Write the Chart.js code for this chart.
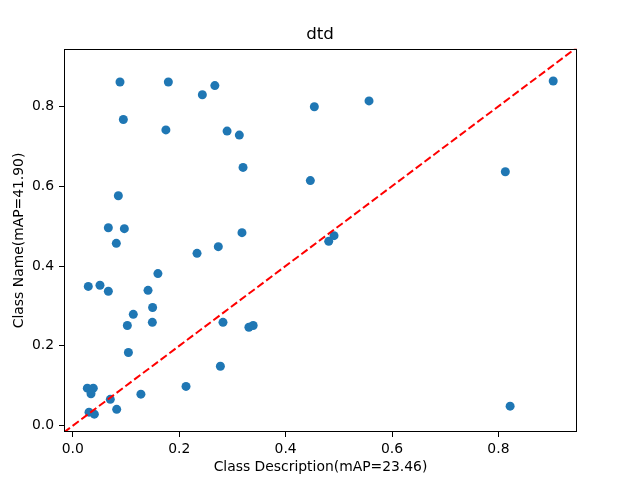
<!DOCTYPE html>
<html>
<head>
<meta charset="utf-8">
<script src="https://cdn.jsdelivr.net/npm/chart.js@4/dist/chart.umd.min.js"></script>
<style>
html,body{margin:0;padding:0;background:#fff;}
#wrap{width:640px;height:480px;position:relative;}
</style>
</head>
<body>
<div id="wrap"><canvas id="c" width="640" height="480"></canvas></div>
<script>
const chartTitle = "dtd";
const xLabel = "Class Description(mAP=23.46)";
const yLabel = "Class Name(mAP=41.90)";
const tickValues = [0.0, 0.2, 0.4, 0.6, 0.8];

const descAP = [0.0887,0.1796,0.2435,0.267,0.454,0.095,0.175,0.290,0.313,0.320,0.4465,0.0856,0.0668,0.0969,0.318,0.0818,
  0.5568,0.903,0.813,0.491,0.481,0.822,
  0.2735,0.2335,0.160,0.0291,0.0511,0.0668,0.1414,0.150,0.1137,0.1025,0.1495,0.2823,0.331,0.339,0.1045,0.2774,0.2128,0.0273,0.0385,0.0342,0.128,0.0705,0.0825,0.0305,0.0405];
const nameAP = [0.861,0.861,0.829,0.852,0.799,0.767,0.741,0.738,0.728,0.647,0.614,0.576,0.496,0.4935,0.4835,0.4568,
  0.8135,0.8635,0.636,0.476,0.4618,0.049,
  0.4485,0.4318,0.381,0.349,0.3518,0.3368,0.339,0.296,0.279,0.251,0.259,0.259,0.2467,0.251,0.1835,0.149,0.0985,0.094,0.094,0.080,0.079,0.066,0.041,0.034,0.029];
const diagLine = [-0.05, 1.0];

const points = descAP.map((x,i)=>({x:x, y:nameAP[i]}));
const diag = diagLine.map(v=>({x:v,y:v}));

const frame = {
  id:'frame',
  afterDraw(chart){
    const a = chart.chartArea, ctx = chart.ctx;
    ctx.save();
    ctx.strokeStyle = '#000';
    ctx.lineWidth = 1;
    ctx.strokeRect(Math.round(a.left)+0.5, Math.round(a.top)+0.5, Math.round(a.right-a.left)-1, Math.round(a.bottom-a.top)-1);
    ctx.restore();
  }
};

new Chart(document.getElementById('c'), {
  type: 'scatter',
  data: {
    datasets: [
      {
        data: points,
        backgroundColor: '#1f77b4',
        borderColor: '#1f77b4',
        borderWidth: 0,
        pointRadius: 4.5,
        pointHoverRadius: 4.5,
        order: 2
      },
      {
        type: 'line',
        data: diag,
        borderColor: '#ff0000',
        borderWidth: 2,
        borderDash: [7.7, 3.3],
        pointRadius: 0,
        fill: false,
        order: 1
      }
    ]
  },
  options: {
    responsive: false,
    animation: false,
    events: [],
    layout: { padding: 0 },
    plugins: {
      legend: { display: false },
      tooltip: { enabled: false },
      title: {
        display: true,
        text: chartTitle,
        color: '#000',
        font: { family: 'DejaVu Sans', size: 16.7, weight: 'normal', lineHeight: 1.2 },
        padding: { top: 24.4, bottom: 4.4 }
      }
    },
    scales: {
      x: {
        type: 'linear',
        min: -0.01654,
        max: 0.9477,
        afterFit(s){ s.height = 48; },
        afterBuildTicks(s){ s.ticks = tickValues.map(v=>({value:v})); },
        ticks: {
          color: '#000',
          font: { family: 'DejaVu Sans', size: 13.9 },
          padding: 4,
          maxRotation: 0,
          callback: v => v.toFixed(1)
        },
        grid: { display: true, drawOnChartArea: false, drawTicks: true, tickLength: 5, tickColor: '#000' },
        border: { display: false },
        title: {
          display: true, text: xLabel, color: '#000',
          font: { family: 'DejaVu Sans', size: 13.9, lineHeight: 1.2 },
          padding: { top: 0, bottom: 4 }
        }
      },
      y: {
        type: 'linear',
        min: -0.01575,
        max: 0.944,
        afterFit(s){ s.width = 64; },
        afterBuildTicks(s){ s.ticks = tickValues.map(v=>({value:v})); },
        ticks: {
          color: '#000',
          font: { family: 'DejaVu Sans', size: 13.9 },
          padding: 5,
          callback: v => v.toFixed(1)
        },
        grid: { display: true, drawOnChartArea: false, drawTicks: true, tickLength: 5, tickColor: '#000' },
        border: { display: false },
        title: {
          display: true, text: yLabel, color: '#000',
          font: { family: 'DejaVu Sans', size: 13.9, lineHeight: 1.2 },
          padding: { top: 10.7, bottom: 0 }
        }
      },
      yRight: {
        type: 'linear',
        position: 'right',
        min: 0, max: 1,
        afterFit(s){ s.width = 63; },
        ticks: { display: false },
        grid: { display: false },
        border: { display: false },
        title: { display: false }
      }
    }
  },
  plugins: [frame]
});
</script>
</body>
</html>
